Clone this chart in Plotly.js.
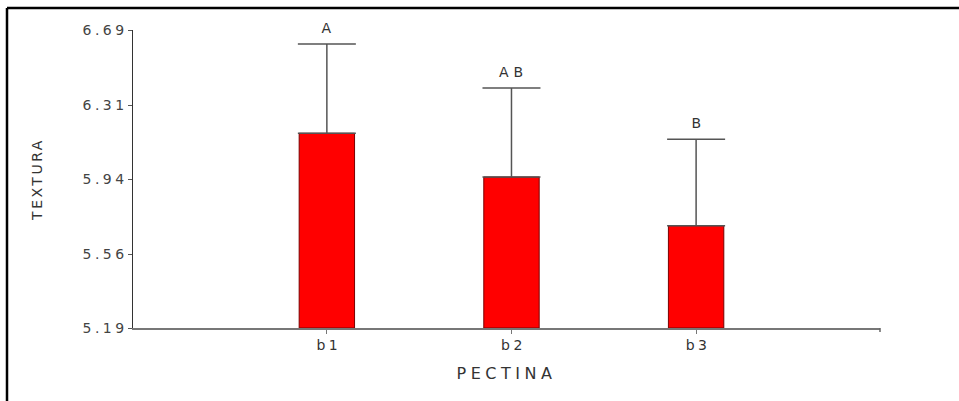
<!DOCTYPE html>
<html>
<head>
<meta charset="utf-8">
<script src="https://cdn.plot.ly/plotly-3.0.1.min.js"></script>
<style>
  html, body { margin: 0; padding: 0; background: #ffffff; }
  #chart { width: 959px; height: 401px; }
  #chart .ytick text { letter-spacing: 3.5px; }
  #chart .xtick text { letter-spacing: 3.5px; }
  #chart .g-xtitle text { letter-spacing: 4.5px; }
  #chart .g-ytitle text { letter-spacing: 2.5px; }
  #chart .annotation-text { letter-spacing: 5px; }
</style>
</head>
<body>
<div id="chart"></div>
<script>
// ---- data ----
const categories = ["b1", "b2", "b3"];
const means = [6.17, 5.95, 5.705];
const errors = [0.45, 0.448, 0.435];
const letters = ["A", "AB", "B"];
const yTickVals = [5.19, 5.56, 5.94, 6.31, 6.69];
const yTickText = ["5.19", "5.56", "5.94", "6.31", "6.69"];
const yBase = 5.19;

const FONT = "DejaVu Sans, Verdana, sans-serif";

const trace = {
  type: "bar",
  x: categories,
  y: means.map(v => v - yBase),
  base: yBase,
  width: 0.3,
  marker: { color: "#ff0000", line: { color: "#7a0000", width: 1 } },
  error_y: {
    type: "data",
    array: errors,
    symmetric: false,
    arrayminus: categories.map(() => 0),
    color: "#555555",
    thickness: 1.5,
    width: 29
  },
  hoverinfo: "x+y"
};

const annotations = categories.map((c, i) => ({
  x: c,
  y: means[i] + errors[i],
  xref: "x",
  yref: "y",
  text: letters[i],
  showarrow: false,
  yshift: 16,
  xshift: 2.5,
  font: { family: FONT, size: 14, color: "#333333" }
}));

// left/top frame lines drawn around the figure (paper coords)
const L = 133, R = 880, T = 30, B = 328, W = 959, H = 401;
const px = x => (x - L) / (R - L);
const py = y => (B - y) / (B - T);
const shapes = [
  { type: "line", xref: "paper", yref: "paper", x0: px(7), x1: px(7), y0: py(8), y1: py(H), line: { color: "#000000", width: 2.5 } },
  { type: "line", xref: "paper", yref: "paper", x0: px(7), x1: px(W), y0: py(8), y1: py(8), line: { color: "#000000", width: 2.5 } },
  { type: "line", xref: "paper", yref: "paper", x0: 1, x1: 1, y0: 0, y1: py(B + 4), line: { color: "#666666", width: 1.5 } }
];

const layout = {
  width: W,
  height: H,
  margin: { l: L, r: W - R, t: T, b: H - B, pad: 0 },
  paper_bgcolor: "#ffffff",
  plot_bgcolor: "#ffffff",
  showlegend: false,
  font: { family: FONT, color: "#333333" },
  xaxis: {
    type: "category",
    range: [-1.05, 2.996],
    showline: true,
    linecolor: "#777777",
    linewidth: 1.5,
    showgrid: false,
    zeroline: false,
    ticks: "outside",
    ticklen: 4,
    tickcolor: "#777777",
    tickwidth: 1,
    ticklabelshift: 2,
    tickfont: { family: FONT, size: 14, color: "#333333" },
    title: { text: "PECTINA", font: { family: FONT, size: 16, color: "#333333" }, standoff: 15 }
  },
  yaxis: {
    range: [5.19, 6.69],
    tickmode: "array",
    tickvals: yTickVals,
    ticktext: yTickText,
    showline: true,
    linecolor: "#333333",
    linewidth: 1.5,
    showgrid: false,
    zeroline: false,
    ticks: "outside",
    ticklen: 4,
    tickcolor: "#555555",
    tickwidth: 1,
    ticklabelstandoff: -3,
    tickfont: { family: FONT, size: 14, color: "#444444" },
    title: { text: "TEXTURA", font: { family: FONT, size: 14, color: "#333333" }, standoff: 50 }
  },
  annotations: annotations,
  shapes: shapes,
  bargap: 0.7
};

Plotly.newPlot("chart", [trace], layout, { displayModeBar: false, staticPlot: true });
</script>
</body>
</html>
